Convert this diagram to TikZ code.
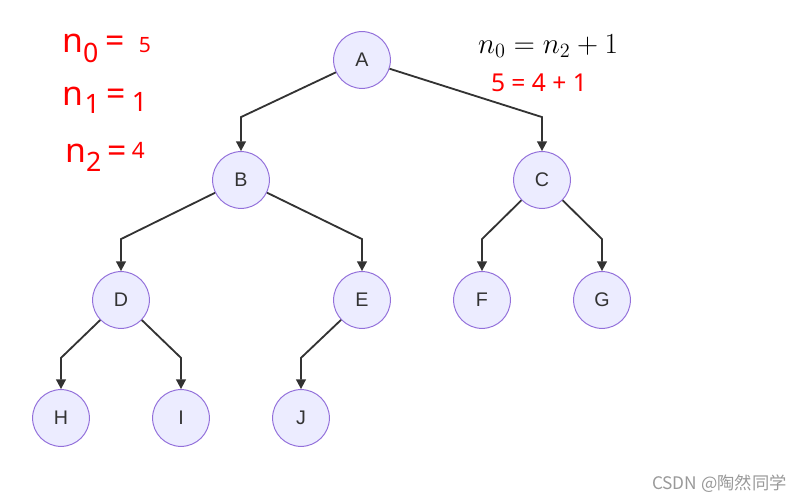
\documentclass[tikz,border=0pt]{standalone}
\usepackage{amsmath,amssymb}
\usepackage{xcolor}
\usepackage{fontspec}
\setmainfont{Liberation Sans}
\newfontfamily\redfont{Noto Sans}
\newfontfamily\cjk{Noto Sans CJK SC}
\usepackage{tikz}
\usetikzlibrary{arrows.meta, positioning}

\definecolor{nodefill}{HTML}{ECECFF}
\definecolor{nodeline}{HTML}{9370DB}
\definecolor{edgeline}{HTML}{333333}

\begin{document}
\begin{tikzpicture}[
  x=0.025cm, y=-0.025cm,
  vertex/.style={circle, draw=nodeline, fill=nodefill, line width=0.7pt,
                 minimum size=1.42cm, inner sep=0pt, text=edgeline,
                 font=\fontsize{14}{14}\selectfont},
  arrow/.style={->, >={Triangle[length=7pt,width=7pt]}, draw=edgeline,
                line width=1.3pt},
  redtxt/.style={text=red, inner sep=0pt, anchor=base west, font=\redfont}
]
\useasboundingbox (0,0) rectangle (803,503);

% Tree levels
\node[vertex] (A) at (362,60) {A};
\node[vertex] (B) at (241,180) {B};
\node[vertex] (C) at (542,180) {C};
\node[vertex] (D) at (121,300) {D};
\node[vertex] (E) at (362,300) {E};
\node[vertex] (F) at (482,300) {F};
\node[vertex] (G) at (602,300) {G};
\node[vertex] (H) at (61,418) {H};
\node[vertex] (I) at (181,418) {I};
\node[vertex] (J) at (301,418) {J};

% Counts on the left
\node[redtxt] (nzero) at (62,53)
  {\fontsize{24}{24}\selectfont n\raisebox{-7pt}{\fontsize{19}{19}\selectfont 0}\hspace{5pt}=\hspace{10pt}\fontsize{15}{15}\selectfont 5};
\node[redtxt] (none) at (62,106)
  {\fontsize{24}{24}\selectfont n\hspace{1pt}\raisebox{-5pt}{\fontsize{19}{19}\selectfont 1}\hspace{5pt}=\hspace{4pt}\raisebox{-4pt}{\fontsize{19}{19}\selectfont 1}};
\node[redtxt] (ntwo) at (65,163)
  {\fontsize{24}{24}\selectfont n\raisebox{-6.4pt}{\fontsize{19}{19}\selectfont 2}\hspace{4pt}=\hspace{4pt}\raisebox{3.5pt}{\fontsize{16}{16}\selectfont 4}};

% Formula
\node[inner sep=0pt, anchor=base] (law) at (548,53.5)
  {\fontsize{21.5}{21.5}\selectfont $n_0 = n_2 + 1$};
\node[inner sep=0pt, anchor=base, text=red, font=\redfont\fontsize{17.5}{17.5}\selectfont]
  (check) at (539,91.5) {5 = 4 + 1};

% Watermark
\node[inner sep=0pt, anchor=base east, text=gray!80, font=\cjk\fontsize{12.3}{12.3}\selectfont]
  (mark) at (787,490) {CSDN @陶然同学};

% Arrows
\draw[arrow] (A) -- ([yshift=0.85cm]B.north) -- (B.north);
\draw[arrow] (A) -- ([yshift=0.85cm]C.north) -- (C.north);
\draw[arrow] (B) -- ([yshift=0.8cm]D.north) -- (D.north);
\draw[arrow] (B) -- ([yshift=0.8cm]E.north) -- (E.north);
\draw[arrow] (C) -- ([yshift=0.8cm]F.north) -- (F.north);
\draw[arrow] (C) -- ([yshift=0.8cm]G.north) -- (G.north);
\draw[arrow] (D) -- ([yshift=0.78cm]H.north) -- (H.north);
\draw[arrow] (D) -- ([yshift=0.78cm]I.north) -- (I.north);
\draw[arrow] (E) -- ([yshift=0.78cm]J.north) -- (J.north);
\end{tikzpicture}
\end{document}
